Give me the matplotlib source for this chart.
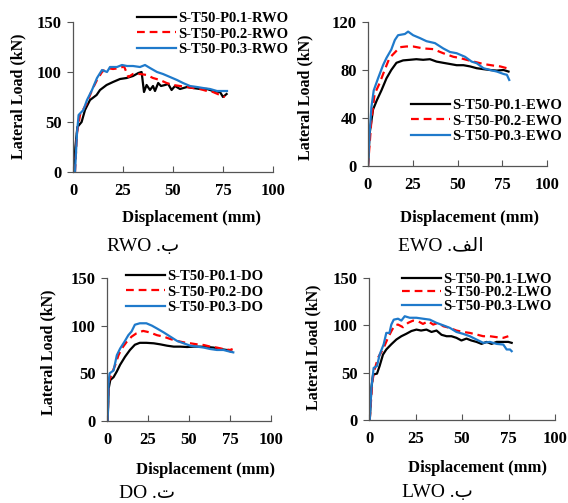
import matplotlib
matplotlib.use("Agg")
from matplotlib import pyplot as plt

#====================== Data ======================

# RWO panel
rwo_d1 = [0.5, 1.2, 2.2, 4.3, 6, 8.5, 11.8, 13.5, 16.8, 20, 23.5, 26.8, 30, 32.7, 34.3, 35.5, 36.8, 38.5, 40, 41,
          42.6, 44, 46, 47.6, 49.3, 51, 53.5, 57, 60, 63.5, 67, 70, 73.5, 75, 76.8]
rwo_f1 = [0, 25, 45, 50, 62, 72, 77, 82, 87, 90, 93, 94, 96, 99, 100, 80, 87, 82, 86, 81,
          89, 86, 87, 88, 82, 86, 83, 85, 84, 83, 83, 81, 80, 75, 78]
rwo_d2 = [1, 2, 3.5, 7, 9.5, 12, 14.5, 17, 20, 23.5, 25.5, 27.7, 30, 33.5, 37, 40, 43.5, 46.8, 50, 53.5,
          57, 60, 63.5, 67, 70, 73.5, 76]
rwo_f2 = [0, 39, 57, 69, 82, 92, 100, 104, 103, 104, 105.7, 95, 98, 98, 97, 94, 92, 89, 87, 86,
          85, 84, 83, 81, 80, 77, 75]
rwo_d3 = [1, 2, 2.8, 5.2, 7, 9.5, 12, 14.5, 17, 18.5, 22, 24.5, 27, 30, 33.5, 36, 38.5, 42, 45, 48.5,
          52, 55, 58.5, 62, 65, 68.5, 72, 75, 77]
rwo_f3 = [0, 39, 57, 62, 72, 82, 94, 102, 100, 105, 105, 107, 106, 106, 105, 107, 104, 100, 98, 95,
          92, 89, 86, 85, 84, 83, 81, 81, 81]

# EWO panel
ewo_d1 = [0, 0.9, 2.8, 5, 7.5, 10.3, 13, 15.9, 19.6, 23.4, 27, 30.8, 34.6, 38.3, 42, 45.8, 49.5, 53.3, 57,
          60.7, 64.5, 68.2, 72, 75.7, 78.5]
ewo_f1 = [0, 27, 47, 55, 63, 73, 80, 86, 88, 88.5, 89, 88.5, 89, 87, 86, 85, 84, 84, 83,
          81.5, 80.7, 80, 79.5, 80, 78.7]
ewo_d2 = [0, 1.9, 3.7, 6.5, 9.3, 12, 15, 17.8, 21.5, 25.2, 30.8, 36.4, 42, 47.7, 51.4, 55, 59, 64.5, 70,
          73.8, 77.6]
ewo_f2 = [0, 38, 60, 69, 80, 90, 94.6, 99, 99.6, 99.6, 98, 97.4, 94, 91, 90, 88.5, 87, 85, 83.7,
          83, 81.5]
ewo_d3 = [0, 0.9, 1.9, 3.2, 5.6, 8.4, 10.3, 13, 15, 16.8, 20.6, 22.4, 25.2, 29, 32.7, 37.4, 42, 45.8, 49.5,
          54.2, 57.9, 60.7, 64.5, 68.2, 72, 75.7, 77.6, 78.9]
ewo_f3 = [0, 27, 49, 63, 73, 84, 90, 97, 105, 109, 110, 112, 109, 106.6, 104, 102.4, 98, 95, 94,
          91, 87, 85.7, 81.5, 80, 78.7, 76.7, 76, 71.7]

# DO panel
do_d1 = [0.4, 1, 2, 4, 6, 8, 11, 14, 17, 20, 24, 28.5, 32.5, 36.6, 40.7, 44.7, 48.8, 52.8, 57, 61, 65, 69, 73, 76]
do_f1 = [0, 34, 43, 46, 52, 59, 67.4, 74.5, 80, 82, 82, 81.5, 80.4, 79, 78, 78, 77.6, 78, 78, 77.6, 77, 75.5,
         74.5, 72.7]
do_d2 = [0.4, 1, 3, 5, 7, 9, 12, 15, 18, 22, 26, 30.5, 34.5, 38.6, 42.7, 46.7, 50.8, 55, 59, 63, 67, 71, 75, 76.6]
do_f2 = [0, 41, 50, 58.7, 69, 76, 83, 88.5, 92, 94.5, 93, 90, 88.5, 86, 84, 82.5, 81.5, 80.4, 79.7, 78, 77,
         75.5, 74.5, 75.5]
do_d3 = [0.4, 1, 1.6, 4, 6, 8, 10.6, 13, 15, 17, 20, 24, 27.4, 30.5, 34.5, 38.6, 42.7, 46.7, 50.8, 55, 59, 63,
         67, 71, 75, 77]
do_f3 = [0, 41, 50, 53, 69, 76, 83, 90, 94, 101, 102.5, 102.5, 100, 97, 93, 88.5, 84, 81.5, 79, 78, 77, 75.5,
         74.5, 74.5, 72.7, 72]

# LWO panel
lwo_d1 = [0.4, 1.3, 2.2, 4.3, 5.7, 7.5, 9.3, 12, 14.7, 17.4, 20, 22.8, 25.5, 28, 30.9, 33.6, 36.3, 39, 41.7,
          44.3, 47, 49.7, 52.4, 55, 57.8, 60.5, 63.2, 65.9, 68.6, 72.2, 74.9, 76.7]
lwo_f1 = [0, 34, 48, 49, 57, 69, 74.5, 80, 85, 88.5, 91, 94, 95.5, 94.5, 95.5, 93, 94.5, 90, 88.5,
          88.5, 86.8, 84, 86, 84, 82.5, 80.4, 82.5, 80.4, 82.5, 82.5, 82.5, 81.5]
lwo_d2 = [0.4, 1.8, 3, 4.8, 7.5, 10.2, 12, 13.8, 15.6, 18.3, 21, 23.7, 26.4, 29, 31.8, 34.5, 37.2, 40, 43.5,
          47, 50.6, 54.2, 57.8, 61.4, 65, 68.6, 72.2, 74.9]
lwo_f2 = [0, 41, 53, 65.7, 74.5, 86.8, 93.8, 100, 100.8, 98, 102.6, 105, 104.3, 101.5, 104.3, 100.8, 102.6, 99,
          97.3, 94.5, 93, 92, 90.3, 88.5, 88.5, 87.5, 86.8, 88.5]
lwo_d3 = [0.4, 1.3, 2.5, 4.3, 5.7, 7.9, 9.3, 11, 12, 13.3, 15.6, 17.4, 19.2, 21.9, 25.5, 29, 32.7, 36.3, 39.9,
          43.5, 47, 50.6, 54.2, 57.8, 61.4, 65, 68.6, 72.2, 74, 75.8, 76.7]
lwo_f3 = [0, 34, 55, 57, 69, 80, 92, 92, 100.8, 106, 107, 105, 109.6, 108, 108, 107, 106, 102.6, 100,
          97.3, 93, 91, 88.5, 85, 81.5, 82.5, 80.4, 79.7, 74.5, 74.5, 72.7]

#====================== Figure layout ======================

W, H = 568, 503
fig = plt.figure(figsize=(W / 100, H / 100), dpi=100)
SERIF = "Liberation Serif"


def px_axes(x0, y0, x1, y1):
    # axes from pixel box (left, top, right, bottom)
    return fig.add_axes([x0 / W, 1 - y1 / H, (x1 - x0) / W, (y1 - y0) / H])


def draw_panel(box, series, tag, yticks, ylab_xy, xlab_xy, cap_xy, caption, leg_xy, leg_space):
    ax = px_axes(*box)
    styles = [dict(color="black", lw=1.6),
              dict(color="#ff0000", lw=1.6, ls=(0, (3.5, 2.2))),
              dict(color="#1f7acb", lw=1.6)]
    for i, (d, f) in enumerate(series):
        ax.plot(d, f, label="S-T50-P0.%d-%s" % (i + 1, tag), **styles[i])
    ax.set_xlim(0, 100)
    ax.set_ylim(0, yticks[-1])
    ax.set_xticks([0, 25, 50, 75, 100])
    ax.set_yticks(yticks)
    for s in ["top", "right"]:
        ax.spines[s].set_visible(False)
    for s in ["left", "bottom"]:
        ax.spines[s].set_color("#555555")
        ax.spines[s].set_linewidth(0.9)
    ax.tick_params(axis="x", direction="in", length=4, color="#555555", pad=8)
    ax.tick_params(axis="y", direction="out", length=4, color="#555555", pad=4)
    for lab in ax.get_xticklabels() + ax.get_yticklabels():
        lab.set_fontfamily(SERIF)
        lab.set_fontweight("bold")
        lab.set_fontsize(12)
    fig.text(ylab_xy[0] / W, 1 - ylab_xy[1] / H, "Lateral Load (kN)", rotation=90,
             ha="center", va="center", family=SERIF, weight="bold", fontsize=11.5)
    fig.text(xlab_xy[0] / W, 1 - xlab_xy[1] / H, "Displacement (mm)",
             ha="center", va="center", family=SERIF, weight="bold", fontsize=12)
    fig.text(cap_xy[0] / W, 1 - cap_xy[1] / H, caption,
             ha="center", va="center", family=[SERIF, "DejaVu Sans"], fontsize=14)
    ax.legend(loc="upper left", bbox_to_anchor=(leg_xy[0] / W, 1 - leg_xy[1] / H),
              bbox_transform=fig.transFigure, frameon=False, borderpad=0, borderaxespad=0,
              handlelength=2.7, handletextpad=0.15, labelspacing=leg_space,
              prop=dict(family=SERIF, weight="bold", size=10.5))
    return ax


draw_panel((73, 22, 273, 172),
           [(rwo_d1, rwo_f1), (rwo_d2, rwo_f2), (rwo_d3, rwo_f3)], "RWO",
           [0, 50, 100, 150], (18, 96), (191, 218), (143, 246), "RWO .\u0628",
           (137, 12), 0.15)

draw_panel((368, 22, 547, 166),
           [(ewo_d1, ewo_f1), (ewo_d2, ewo_f2), (ewo_d3, ewo_f3)], "EWO",
           [0, 40, 80, 120], (305, 97), (470, 218), (441, 246), "EWO .\uFED2\uFEDF\u0627",
           (411, 99), 0.15)

draw_panel((107, 278, 271, 421),
           [(do_d1, do_f1), (do_d2, do_f2), (do_d3, do_f3)], "DO",
           [0, 50, 100, 150], (48, 352), (206, 470), (147, 493), "DO .\u062A",
           (126, 270), 0.15)

draw_panel((369, 278, 555, 420),
           [(lwo_d1, lwo_f1), (lwo_d2, lwo_f2), (lwo_d3, lwo_f3)], "LWO",
           [0, 50, 100, 150], (313, 347), (478, 468), (437, 493), "LWO .\u0628",
           (402, 273), 0.0)

fig.savefig("out.png", dpi=100)
